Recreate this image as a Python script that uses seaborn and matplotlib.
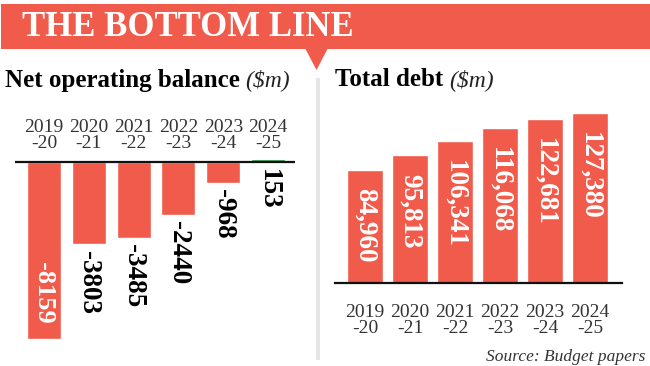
import numpy as np
import matplotlib.pyplot as plt
import seaborn as sns
from matplotlib.patches import Rectangle, Polygon

# data
years = ['2019\n-20', '2020\n-21', '2021\n-22', '2022\n-23', '2023\n-24', '2024\n-25']
net_operating = [-8159, -3803, -3485, -2440, -968, 153]
total_debt = [84960, 95813, 106341, 116068, 122681, 127380]

RED = '#F05B4B'
GREEN = '#1F9A4A'
SERIF = 'Liberation Serif'

sns.set_theme(style='white')
plt.rcParams['font.family'] = [SERIF, 'DejaVu Serif']

W, H = 650, 366
fig = plt.figure(figsize=(W / 100, H / 100), dpi=100)
fig.patch.set_facecolor('white')


def px_axes(x0, y0, x1, y1):
    # figure pixel box (top-left origin) -> axes
    return fig.add_axes([x0 / W, 1 - y1 / H, (x1 - x0) / W, (y1 - y0) / H])


# header band, pointer and divider
bg = px_axes(0, 0, W, H)
bg.set_xlim(0, W)
bg.set_ylim(H, 0)
bg.axis('off')
bg.add_patch(Rectangle((1, 4), W - 1, 45, color=RED, lw=0))
bg.add_patch(Polygon([(305, 48), (328, 48), (316.5, 70)], color=RED, lw=0))
bg.add_patch(Rectangle((316, 78), 4, 282, color='#E6E6E6', lw=0))
bg.text(22, 27, 'THE BOTTOM LINE', color='white', fontsize=25, fontweight='bold',
        va='center', ha='left')

t1 = bg.text(5, 80, 'Net operating balance', fontsize=18, fontweight='bold',
             va='center', ha='left', color='black')
bg.annotate('($m)', xy=(1, 0.5), xycoords=t1, xytext=(4, 0), textcoords='offset points',
            fontsize=17, style='italic', va='center', ha='left', color='#222222')
t2 = bg.text(335, 80, 'Total debt', fontsize=18, fontweight='bold',
             va='center', ha='left', color='black')
bg.annotate('($m)', xy=(1, 0.5), xycoords=t2, xytext=(4, 0), textcoords='offset points',
            fontsize=17, style='italic', va='center', ha='left', color='#222222')
bg.text(645, 357, 'Source: Budget papers', fontsize=12.5, style='italic',
        va='center', ha='right', color='#333333')

# left chart: net operating balance
ax1 = px_axes(15, 100, 295, 345)
colors = [RED if v < 0 else GREEN for v in net_operating]
sns.barplot(x=years, y=net_operating, hue=years, palette=colors, legend=False,
            width=0.76, saturation=1, ax=ax1)
ax1.set_xlim(-0.647, 5.6)
ax1.set_ylim(-8437, 2858)
ax1.axhline(0, color='#111111', lw=1.6, zorder=3)
ax1.axis('off')
for i, (lab, v) in enumerate(zip(years, net_operating)):
    ax1.text(i, 450, lab, ha='center', va='bottom', fontsize=14,
             color='#333333', linespacing=0.95)
    if v == min(net_operating):
        ax1.text(i, v + 700, f'{v}', rotation=270, ha='center', va='bottom',
                 fontsize=19, color='white', fontweight='bold')
    else:
        ax1.text(i, min(v, 0) - 300, f'{v}', rotation=270, ha='center', va='top',
                 fontsize=19.5, color='black', fontweight='bold')

# right chart: total debt
ax2 = px_axes(335, 105, 622, 283)
sns.barplot(x=years, y=total_debt, color=RED, width=0.8, saturation=1, ax=ax2)
ax2.set_xlim(-0.667, 5.71)
ax2.set_ylim(0, 133300)
for s in ['top', 'right', 'left']:
    ax2.spines[s].set_visible(False)
ax2.spines['bottom'].set_color('#111111')
ax2.spines['bottom'].set_linewidth(1.6)
ax2.set_yticks([])
ax2.set_xlabel('')
ax2.set_ylabel('')
ax2.tick_params(axis='x', length=0, pad=15, labelsize=14, labelcolor='#333333')
for t in ax2.get_xticklabels():
    t.set_linespacing(0.95)
for i, v in enumerate(total_debt):
    ax2.text(i, v - 14000, f'{v:,}', rotation=270, ha='center', va='top',
             fontsize=19.5, color='white', fontweight='bold')

fig.savefig('out.png', dpi=100)
